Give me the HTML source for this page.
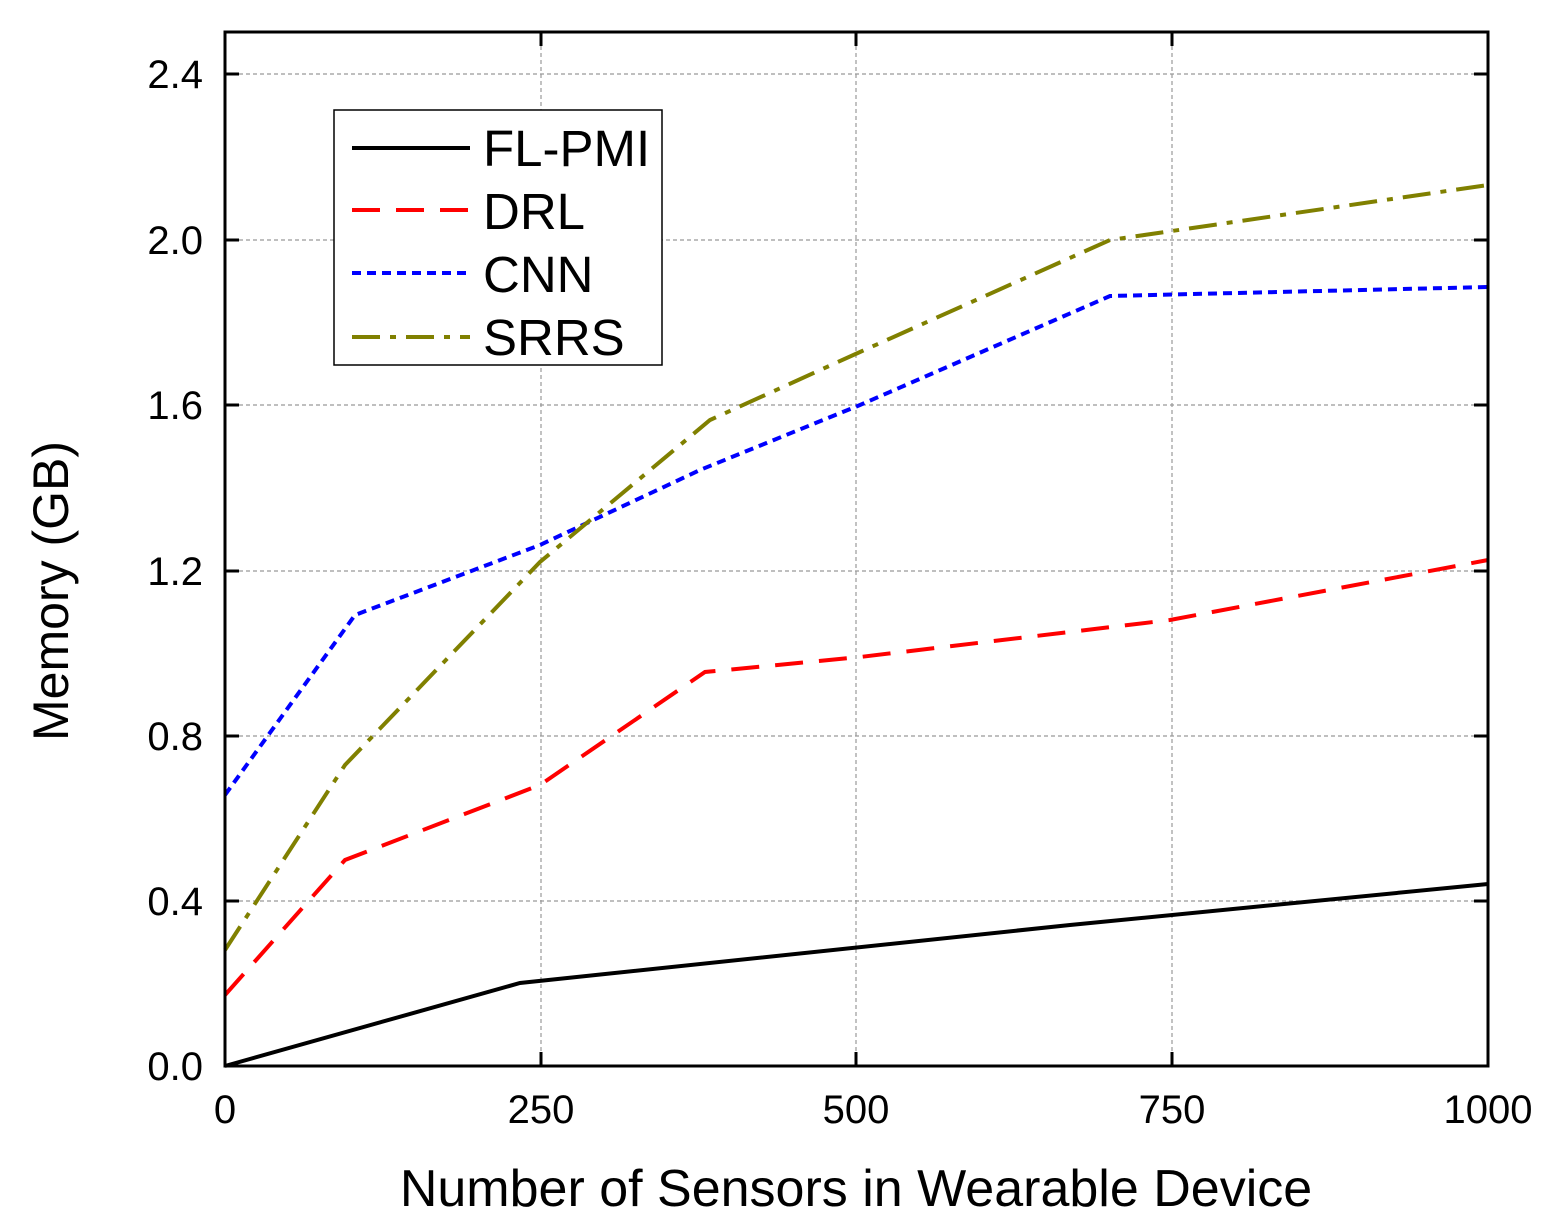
<!DOCTYPE html>
<html><head><meta charset="utf-8"><style>body{margin:0;background:#fff}svg{display:block}text{font-family:"Liberation Sans",Arial,sans-serif;fill:#000}</style></head><body>
<svg width="1550" height="1226" viewBox="0 0 1550 1226" xmlns="http://www.w3.org/2000/svg">
<rect width="1550" height="1226" fill="#fff"/>
<g stroke="#999" stroke-width="1.2" stroke-dasharray="4,3">
<line x1="541" y1="32" x2="541" y2="1066"/><line x1="856" y1="32" x2="856" y2="1066"/><line x1="1172" y1="32" x2="1172" y2="1066"/>
<line x1="225" y1="74" x2="1488" y2="74"/><line x1="225" y1="240" x2="1488" y2="240"/><line x1="225" y1="405" x2="1488" y2="405"/><line x1="225" y1="571" x2="1488" y2="571"/><line x1="225" y1="736" x2="1488" y2="736"/><line x1="225" y1="901" x2="1488" y2="901"/>
</g>
<g fill="none" stroke-width="4">
<polyline stroke="#000" points="225,1066 520,983 1070,925 1488,884"/>
<polyline stroke="#f00" stroke-dasharray="28,16" points="225,995 345,860 540,785 705,672 860,657 1170,620 1488,560"/>
<polyline stroke="#00f" stroke-dasharray="9,6" points="225,795 355,615 540,545 700,470 860,405 1110,296 1488,287"/>
<polyline stroke="#808000" stroke-dasharray="28,10,6,10" points="225,950 345,765 540,562 710,420 860,352 1110,240 1488,185"/>
</g>
<rect x="225" y="32" width="1263" height="1034" fill="none" stroke="#000" stroke-width="3"/>
<g stroke="#000" stroke-width="3">
<line x1="541" y1="1066" x2="541" y2="1052"/><line x1="856" y1="1066" x2="856" y2="1052"/><line x1="1172" y1="1066" x2="1172" y2="1052"/>
<line x1="541" y1="32" x2="541" y2="46"/><line x1="856" y1="32" x2="856" y2="46"/><line x1="1172" y1="32" x2="1172" y2="46"/>
<line x1="225" y1="74" x2="239" y2="74"/><line x1="225" y1="240" x2="239" y2="240"/><line x1="225" y1="405" x2="239" y2="405"/><line x1="225" y1="571" x2="239" y2="571"/><line x1="225" y1="736" x2="239" y2="736"/><line x1="225" y1="901" x2="239" y2="901"/>
<line x1="1488" y1="74" x2="1474" y2="74"/><line x1="1488" y1="240" x2="1474" y2="240"/><line x1="1488" y1="405" x2="1474" y2="405"/><line x1="1488" y1="571" x2="1474" y2="571"/><line x1="1488" y1="736" x2="1474" y2="736"/><line x1="1488" y1="901" x2="1474" y2="901"/>
</g>
<g font-size="40" text-anchor="end">
<text x="203" y="1080">0.0</text><text x="203" y="915">0.4</text><text x="203" y="750">0.8</text><text x="203" y="585">1.2</text><text x="203" y="419">1.6</text><text x="203" y="254">2.0</text><text x="203" y="88">2.4</text>
</g>
<g font-size="40" text-anchor="middle">
<text x="225" y="1123">0</text><text x="541" y="1123">250</text><text x="856" y="1123">500</text><text x="1172" y="1123">750</text><text x="1488" y="1123">1000</text>
</g>
<text x="856" y="1206" font-size="52" text-anchor="middle">Number of Sensors in Wearable Device</text>
<text transform="translate(68,591) rotate(-90)" font-size="50" text-anchor="middle">Memory (GB)</text>
<rect x="334" y="110" width="328" height="255" fill="#fff" stroke="#000" stroke-width="1.5"/>
<g stroke-width="4">
<line x1="352" y1="148" x2="470" y2="148" stroke="#000"/>
<line x1="352" y1="210" x2="470" y2="210" stroke="#f00" stroke-dasharray="28,16"/>
<line x1="352" y1="273" x2="470" y2="273" stroke="#00f" stroke-dasharray="9,6"/>
<line x1="352" y1="337" x2="470" y2="337" stroke="#808000" stroke-dasharray="28,10,6,10"/>
</g>
<g font-size="51">
<text x="483" y="166">FL-PMI</text><text x="483" y="229">DRL</text><text x="483" y="292">CNN</text><text x="483" y="355">SRRS</text>
</g>
</svg>
</body></html>
